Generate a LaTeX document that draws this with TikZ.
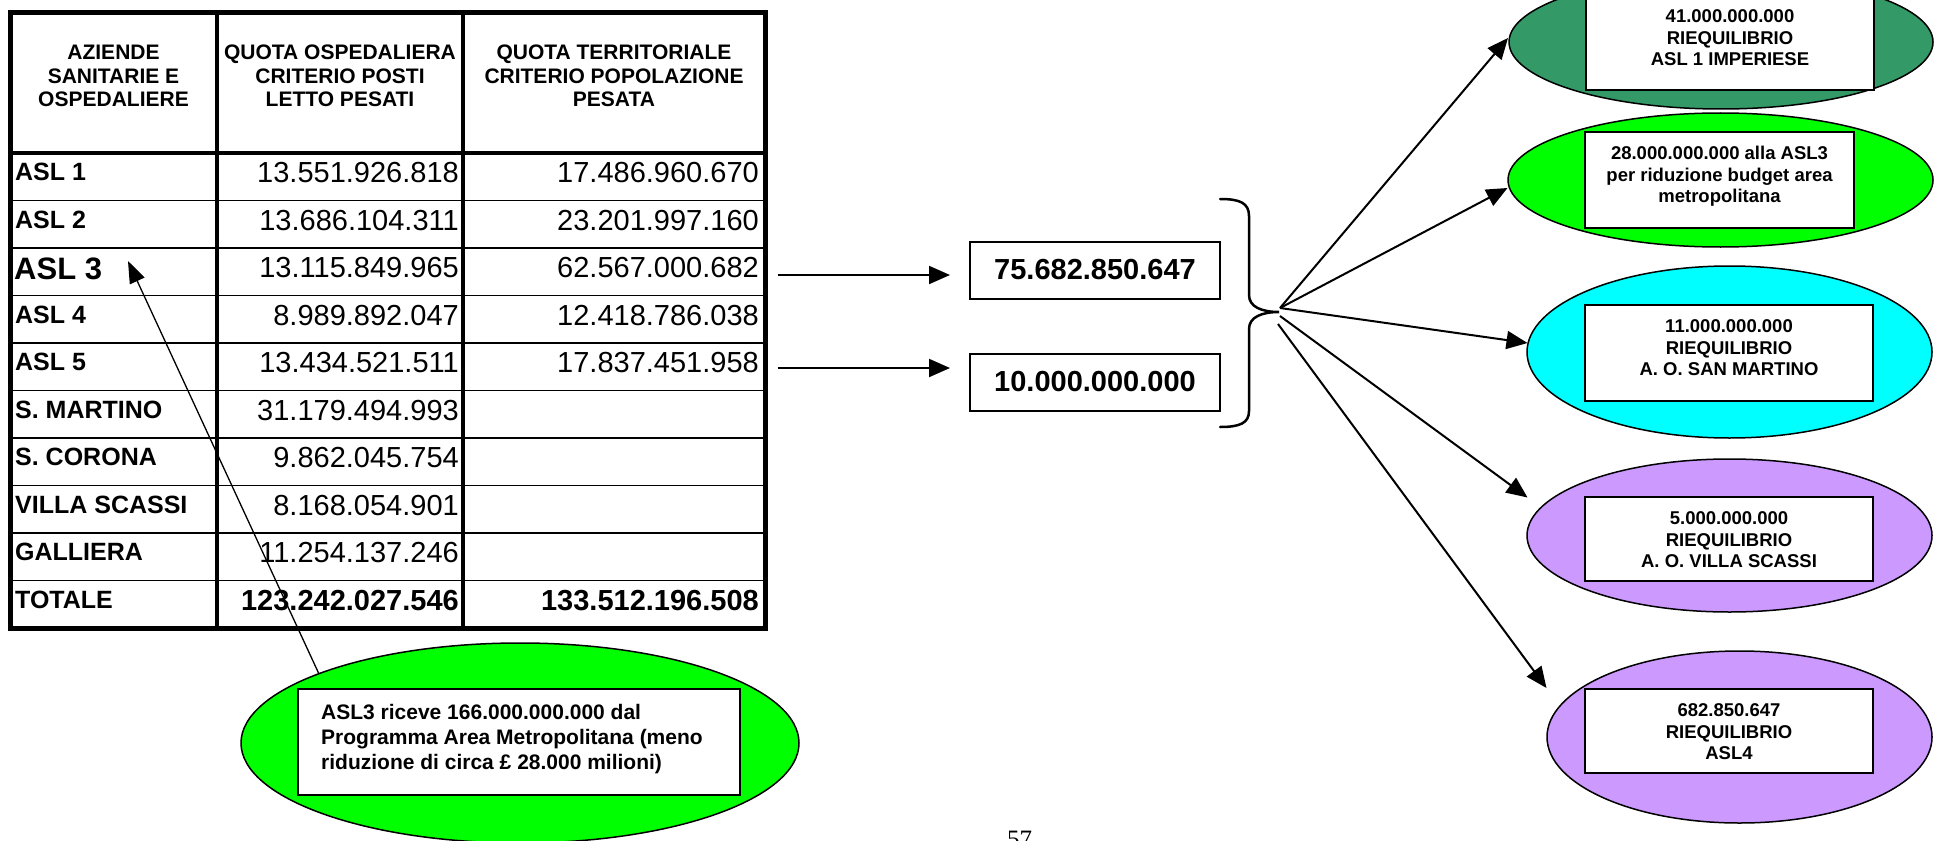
\documentclass[tikz,border=0pt]{standalone}
\usepackage{fontspec}
\setmainfont{Liberation Sans}
\newfontfamily\pagefont{Liberation Serif}
\usetikzlibrary{arrows.meta,shapes.geometric}
\definecolor{dkgreen}{RGB}{51,153,102}
\definecolor{brgreen}{RGB}{0,255,0}
\definecolor{cyanc}{RGB}{0,255,255}
\definecolor{lilac}{RGB}{204,153,255}
\tikzset{
  lab/.style={inner sep=0pt, font=\fontsize{25}{30}\selectfont\bfseries, anchor=base west},
  num/.style={inner sep=0pt, font=\fontsize{29}{34}\selectfont, anchor=base east},
  numb/.style={inner sep=0pt, font=\fontsize{29}{34}\selectfont\bfseries, anchor=base east},
  hdr/.style={inner sep=0pt, align=center, font=\fontsize{21}{23.5}\selectfont\bfseries},
  midbox/.style={draw, line width=2pt, minimum width=250pt, minimum height=57pt, inner sep=0pt, font=\fontsize{29}{34}\selectfont\bfseries},
  oval/.style={ellipse, draw, line width=1.5pt, inner sep=0pt},
  wbox/.style={draw, fill=white, line width=2pt, inner sep=0pt},
  btxt/.style={inner sep=0pt, align=center, font=\fontsize{18.5}{21.5}\selectfont\bfseries},
  arr/.style={line width=2pt, -{Triangle[length=21pt, width=18pt]}},
  arrthin/.style={line width=1.3pt, -{Triangle[length=22pt, width=16pt]}},
  thickrule/.style={line width=5pt},
  colrule/.style={line width=3.5pt},
  rowrule/.style={line width=1.5pt},
  bracepath/.style={line width=2.5pt, line cap=round},
}
\begin{document}
\begin{tikzpicture}[x=1pt,y=-1pt]
\useasboundingbox (0,0) rectangle (1934,840);
\clip (0,0) rectangle (1934,840);
\fill[white] (0,0) rectangle (1934,840);

% ---------- table ----------
\foreach \yy in {200.5,248,295.5,343,390.5,438,485.5,533,580.5}
  \draw[rowrule] (10,\yy) -- (765,\yy);
\draw[colrule] (10,153) -- (765,153);
\draw[colrule] (217,12.5) -- (217,628);
\draw[colrule] (463,12.5) -- (463,628);
\draw[thickrule] (10,12.5) rectangle (765,628);

\node[hdr] (h1) at (113.5,76) {AZIENDE\\SANITARIE E\\OSPEDALIERE};
\node[hdr] (h2) at (340,76) {QUOTA OSPEDALIERA\\CRITERIO POSTI\\LETTO PESATI};
\node[hdr] (h3) at (614,76) {QUOTA TERRITORIALE\\CRITERIO POPOLAZIONE\\PESATA};

\node[lab] (l1) at (15,180.5) {ASL 1};
\node[num] (a1) at (459,182.5) {13.551.926.818};
\node[num] (b1) at (759,182.5) {17.486.960.670};

\node[lab] (l2) at (15,228) {ASL 2};
\node[num] (a2) at (459,230) {13.686.104.311};
\node[num] (b2) at (759,230) {23.201.997.160};

\node[lab, font=\fontsize{31}{36}\selectfont\bfseries] (l3) at (14,279) {ASL 3};
\node[num] (a3) at (459,277.5) {13.115.849.965};
\node[num] (b3) at (759,277.5) {62.567.000.682};

\node[lab] (l4) at (15,323) {ASL 4};
\node[num] (a4) at (459,325) {8.989.892.047};
\node[num] (b4) at (759,325) {12.418.786.038};

\node[lab] (l5) at (15,370.5) {ASL 5};
\node[num] (a5) at (459,372.5) {13.434.521.511};
\node[num] (b5) at (759,372.5) {17.837.451.958};

\node[lab] (l6) at (15,418) {S. MARTINO};
\node[num] (a6) at (459,420) {31.179.494.993};

\node[lab] (l7) at (15,465.5) {S. CORONA};
\node[num] (a7) at (459,467.5) {9.862.045.754};

\node[lab] (l8) at (15,513) {VILLA SCASSI};
\node[num] (a8) at (459,515) {8.168.054.901};

\node[lab] (l9) at (15,560.5) {GALLIERA};
\node[num] (a9) at (459,562.5) {11.254.137.246};

\node[lab] (l10) at (15,608) {TOTALE};
\node[numb] (a10) at (459,610) {123.242.027.546};
\node[numb] (b10) at (759,610) {133.512.196.508};

% ---------- left green ellipse with note ----------
\node[oval, fill=brgreen, minimum width=558pt, minimum height=200pt] (le) at (520,743) {};
\node[wbox, minimum width=442pt, minimum height=106pt] (lb) at (519,742) {};
\node[inner sep=0pt, anchor=north west, align=left, font=\fontsize{21}{25}\selectfont\bfseries] (lt) at (321,704)
  {ASL3 riceve 166.000.000.000 dal\\Programma Area Metropolitana (meno\\riduzione di circa \pounds\ 28.000 milioni)};
\coordinate (asltip) at (128,261);
\draw[arrthin] ([shift={(-201,-69)}]le.center) -- (asltip);

% ---------- middle boxes ----------
\node[midbox] (m1) at (1095,270) {75.682.850.647};
\node[midbox] (m2) at (1095,382) {10.000.000.000};
\coordinate (s1) at (777.5,275);
\coordinate (s2) at (777.5,368);
\draw[arr] (s1) -- ([xshift=-19pt]m1.west |- s1);
\draw[arr] (s2) -- ([xshift=-19pt]m2.west |- s2);

% ---------- brace ----------
\coordinate (apex) at (1279,312);
\draw[bracepath] (1220,199) .. controls (1240,199) and (1249,203) .. (1249,216)
  -- (1249,295) .. controls (1249,307) and (1262,312) .. (apex)
  .. controls (1262,312) and (1249,317) .. (1249,329)
  -- (1249,411) .. controls (1249,423) and (1240,427) .. (1220,427);

% ---------- right ellipses ----------
\node[oval, fill=dkgreen, minimum width=424pt, minimum height=134pt] (e1) at (1721,42) {};
\node[wbox, minimum width=288pt, minimum height=98pt] (r1) at (1730,41) {};
\node[btxt] (t1) at (1730,38) {41.000.000.000\\RIEQUILIBRIO\\ASL 1 IMPERIESE};

\node[oval, fill=brgreen, minimum width=425pt, minimum height=134pt] (e2) at (1720.5,180) {};
\node[wbox, minimum width=269pt, minimum height=96pt] (r2) at (1719.5,180) {};
\node[btxt] (t2) at (1719.5,176.5) {28.000.000.000 alla ASL3\\per riduzione budget area\\metropolitana};

\node[oval, fill=cyanc, minimum width=405pt, minimum height=172pt] (e3) at (1729.5,352) {};
\node[wbox, minimum width=288pt, minimum height=96pt] (r3) at (1729,353) {};
\node[btxt] (t3) at (1729,348) {11.000.000.000\\RIEQUILIBRIO\\A. O. SAN MARTINO};

\node[oval, fill=lilac, minimum width=405pt, minimum height=153pt] (e4) at (1729.5,535.5) {};
\node[wbox, minimum width=288pt, minimum height=84pt] (r4) at (1729,539) {};
\node[btxt] (t4) at (1729,540) {5.000.000.000\\RIEQUILIBRIO\\A. O. VILLA SCASSI};

\node[oval, fill=lilac, minimum width=385pt, minimum height=172pt] (e5) at (1739.5,737) {};
\node[wbox, minimum width=288pt, minimum height=84pt] (r5) at (1729,731) {};
\node[btxt] (t5) at (1729,732) {682.850.647\\RIEQUILIBRIO\\ASL4};

% ---------- fan of arrows ----------
\coordinate (fanA) at (1280,308);
\coordinate (fanB) at (1280,316);
\coordinate (fanC) at (1278,324);
\draw[arr] (fanA) -- ([shift={(-213,-4)}]e1.center);
\draw[arr] (fanA) -- ([shift={(-213,8)}]e2.center);
\draw[arr] (fanA) -- ([shift={(-202,-9)}]e3.center);
\draw[arr] (fanB) -- ([shift={(-202,-38)}]e4.center);
\draw[arr] (fanC) -- ([shift={(-193,-49)}]e5.center);

% ---------- page number ----------
\node[inner sep=0pt, anchor=base, font=\pagefont\fontsize{25}{30}\selectfont] (pg) at (1019.5,847) {57};
\end{tikzpicture}
\end{document}
